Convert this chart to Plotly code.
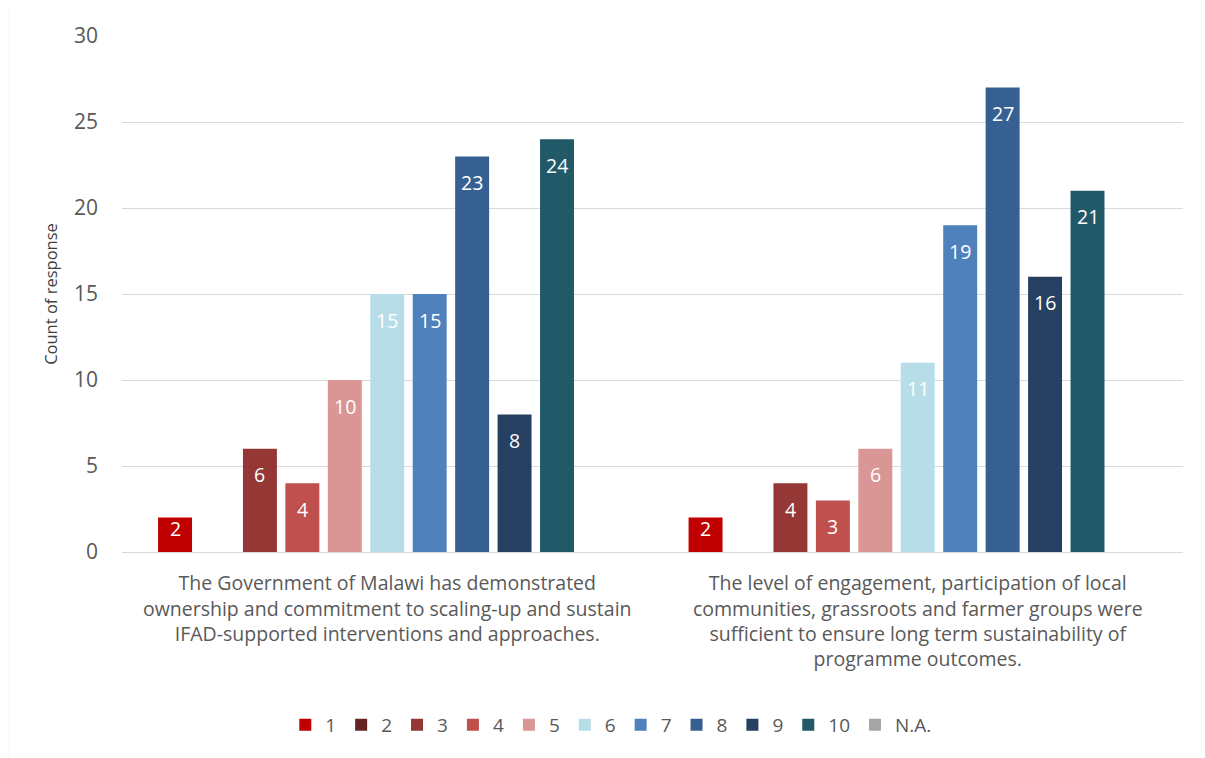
import plotly.graph_objects as go

categories = [
    "The Government of Malawi has demonstrated<br>ownership and commitment to scaling-up and sustain<br>IFAD-supported interventions and approaches.",
    "The level of engagement, participation of local<br>communities, grassroots and farmer groups were<br>sufficient to ensure long term sustainability of<br>programme outcomes.",
]
series_names = ["1", "2", "3", "4", "5", "6", "7", "8", "9", "10", "N.A."]
values_1 = [2, 2]
values_2 = [None, None]
values_3 = [6, 4]
values_4 = [4, 3]
values_5 = [10, 6]
values_6 = [15, 11]
values_7 = [15, 19]
values_8 = [23, 27]
values_9 = [8, 16]
values_10 = [24, 21]
values_na = [None, None]
all_values = [values_1, values_2, values_3, values_4, values_5, values_6,
              values_7, values_8, values_9, values_10, values_na]
colors = ["#C00000", "#632523", "#953735", "#C0504D", "#D99694", "#B7DEE8",
          "#4F81BD", "#376092", "#254061", "#215968", "#A6A6A6"]

FONT = "Open Sans"
BARGAP = 0.12
N = len(series_names)

fig = go.Figure()
for name, vals, col in zip(series_names, all_values, colors):
    fig.add_trace(go.Bar(
        name=name, x=categories, y=vals, marker_color=col,
        marker_line_width=0,
    ))

# data labels ("inside end" with Excel-like padding)
slot = (1 - BARGAP) / N
for i, vals in enumerate(all_values):
    for ci, v in enumerate(vals):
        if v is None:
            continue
        xpos = ci - (1 - BARGAP) / 2 + slot * (i + 0.5)
        fig.add_annotation(
            x=xpos, y=v, xref="x", yref="y", text=str(v), showarrow=False,
            yanchor="middle", yshift=-26 if v >= 3 else -11,
            font=dict(color="white", size=19.5, family=FONT),
        )

fig.update_layout(
    width=1197, height=750,
    barmode="group", bargap=BARGAP, bargroupgap=0.2,
    plot_bgcolor="white", paper_bgcolor="white",
    margin=dict(l=114, r=22, t=28, b=206),
    font=dict(family=FONT, color="#595959", size=19),
    legend=dict(orientation="h", xref="container", yref="container",
                x=0.504, y=0.044, xanchor="center", yanchor="middle",
                font=dict(size=19, color="#595959"), itemwidth=30,
                traceorder="normal"),
    showlegend=True,
)
fig.update_yaxes(range=[0, 30], dtick=5, showgrid=True, gridcolor="#D9D9D9",
                 gridwidth=1, zeroline=False, showline=False,
                 tickfont=dict(size=21, color="#595959"),
                 ticklabelstandoff=23,
                 title=dict(text="Count of response", font=dict(size=16.5, color="#404040"),
                            standoff=12))
fig.update_xaxes(showline=True, linecolor="#D9D9D9", linewidth=1,
                 tickfont=dict(size=19.5, color="#595959"),
                 ticklabelstandoff=14, tickangle=0)
fig.add_shape(type="line", xref="paper", yref="paper",
              x0=-0.108, x1=-0.108, y0=-0.45, y1=1.07,
              line=dict(color="#D9D9D9", width=1.5))

fig.write_html("out.html")
